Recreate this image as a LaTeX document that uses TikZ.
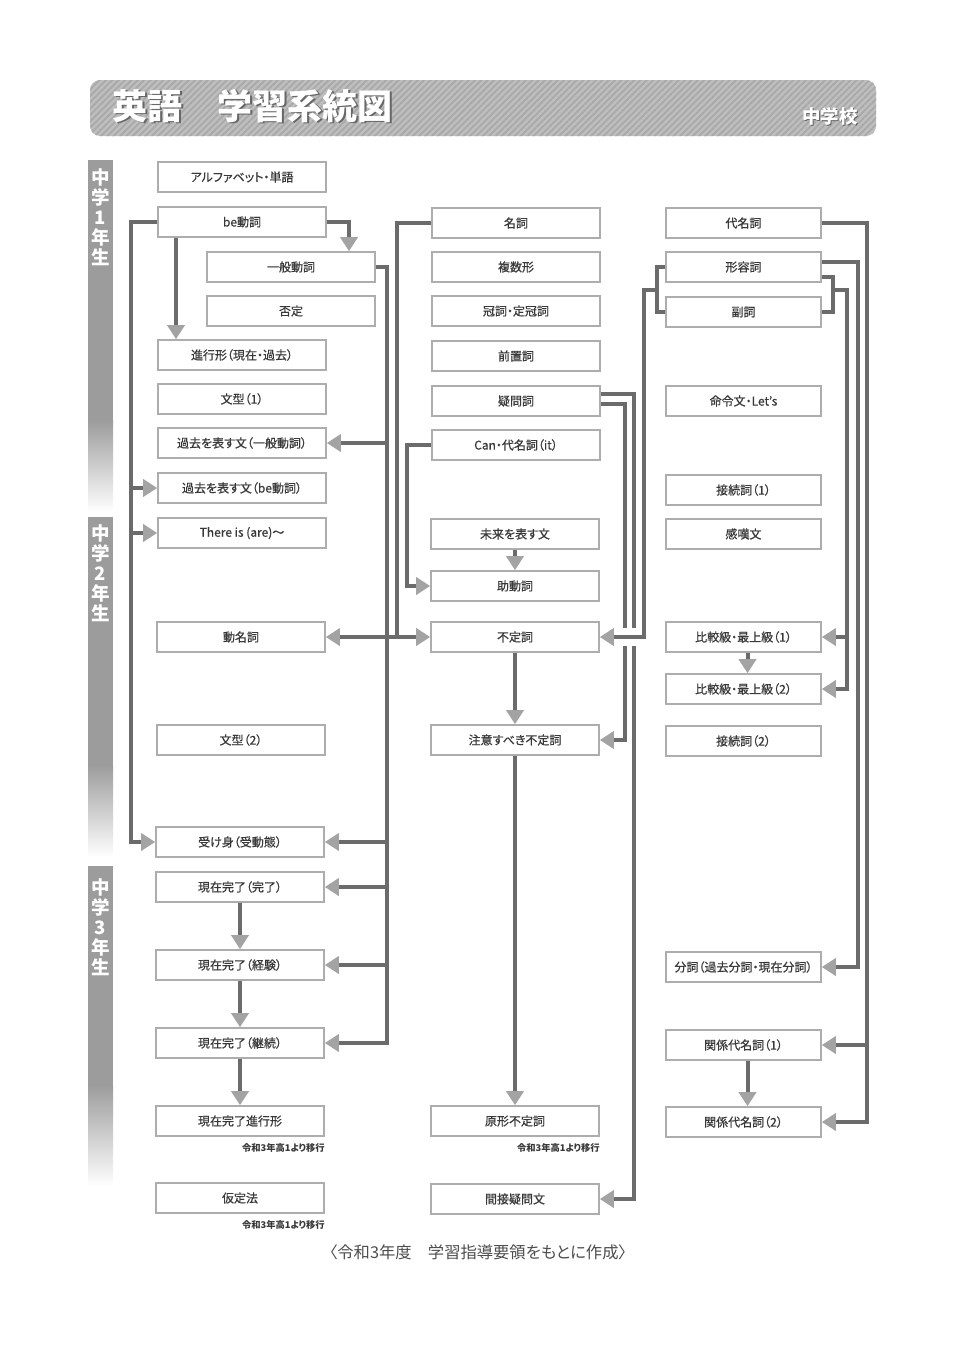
\documentclass[tikz,border=0pt]{standalone}
\usepackage{fontspec}
\setmainfont[RawFeature=+palt]{Noto Sans CJK JP}
\newfontfamily\boxfont[RawFeature=+palt, FakeBold=0.7]{Noto Sans CJK JP}
\usetikzlibrary{arrows.meta, calc, patterns.meta}
\definecolor{linegray}{HTML}{6B6B6B}
\definecolor{arrgray}{HTML}{A3A3A3}
\definecolor{boxgray}{HTML}{ADADAD}
\definecolor{txtgray}{HTML}{383838}
\definecolor{bargray}{HTML}{9C9C9C}
\definecolor{bannergray}{HTML}{BEBEBE}
\definecolor{stripegray}{HTML}{A9A9A9}

\begin{document}
\begin{tikzpicture}[x=1pt, y=-1pt,
        box/.style={draw=boxgray, line width=1.6pt, minimum width=168pt, minimum height=30pt, inner sep=0pt, text=txtgray, font=\boxfont\fontsize{12}{13}\selectfont},
        rbox/.style={box, minimum width=155pt},
        note/.style={anchor=north east, inner sep=0pt, text=txtgray, font=\bfseries\fontsize{9.3}{10}\selectfont},
        conn/.style={draw=linegray, line width=4pt},
        arr/.style={-{Triangle[width=17pt, length=14pt, color=arrgray]}},
        grade/.style={anchor=north, inner sep=0pt, align=center, text=white, font=\bfseries\fontsize{18.5}{20}\selectfont},
        headline/.style={inner sep=0pt, font=\bfseries\fontsize{35}{40}\selectfont}]
        \useasboundingbox (0,0) rectangle (960,1357);

        \fill[bannergray, rounded corners=10pt] (90,80) rectangle (876,136);
        \fill[pattern={Lines[angle=45, distance=4.5pt, line width=1.8pt]}, pattern color=stripegray, rounded corners=10pt] (90,80) rectangle (876,136);
        \node[headline, anchor=west, text=black!60] at (114,107.5) {英語　学習系統図};
        \node[headline, anchor=west, text=white] (title) at (112.5,106) {英語　学習系統図};
        \node[anchor=east, inner sep=0pt, text=black!60, font=\bfseries\fontsize{18.5}{20}\selectfont] at (859,117) {中学校};
        \node[anchor=east, inner sep=0pt, text=white, font=\bfseries\fontsize{18.5}{20}\selectfont] (school) at (858,116) {中学校};

        \fill[bargray] (88,160) rectangle (113,420);
        \shade[top color=bargray, bottom color=white] (88,420) rectangle (113,512);
        \fill[bargray] (88,517) rectangle (113,765);
        \shade[top color=bargray, bottom color=white] (88,765) rectangle (113,857);
        \fill[bargray] (88,866) rectangle (113,1085);
        \shade[top color=bargray, bottom color=white] (88,1085) rectangle (113,1186);
        \node[grade] (g1) at (100.5,168) {中\\学\\1\\年\\生};
        \node[grade] (g2) at (100.5,524) {中\\学\\2\\年\\生};
        \node[grade] (g3) at (100.5,878) {中\\学\\3\\年\\生};

        \node[box] (alph) at (242,177) {アルファベット・単語};
        \node[box] (be) at (242,222) {be動詞};
        \node[box] (ippan) at (291,267) {一般動詞};
        \node[box] (hitei) at (291,311) {否定};
        \node[box] (shinko) at (242,355) {進行形（現在・過去）};
        \node[box] (bunkei1) at (242,399) {文型（1）};
        \node[box] (kakoI) at (242,443) {過去を表す文（一般動詞）};
        \node[box] (kakoB) at (242,488) {過去を表す文（be動詞）};
        \node[box] (there) at (242,533) {There is (are)～};
        \node[box] (domei) at (241,637) {動名詞};
        \node[box] (bunkei2) at (241,740) {文型（2）};
        \node[box] (ukemi) at (240,842) {受け身（受動態）};
        \node[box] (kanryo) at (240,887) {現在完了（完了）};
        \node[box] (keiken) at (240,965) {現在完了（経験）};
        \node[box] (keizoku) at (240,1043) {現在完了（継続）};
        \node[box] (shinkokei) at (240,1121) {現在完了進行形};
        \node[box] (katei) at (240,1198) {仮定法};
        \node[note] (note1) at ([yshift=-6pt]shinkokei.south east) {令和3年高1より移行};
        \node[note] (note2) at ([yshift=-6pt]katei.south east) {令和3年高1より移行};

        \node[box] (meishi) at (516,223) {名詞};
        \node[box] (fukusu) at (516,267) {複数形};
        \node[box] (kanshi) at (516,311) {冠詞・定冠詞};
        \node[box] (zenchi) at (516,356) {前置詞};
        \node[box] (gimon) at (516,401) {疑問詞};
        \node[box] (can) at (516,445) {Can・代名詞（it）};
        \node[box] (mirai) at (515,534) {未来を表す文};
        \node[box] (jodo) at (515,586) {助動詞};
        \node[box] (futei) at (515,637) {不定詞};
        \node[box] (chui) at (515,740) {注意すべき不定詞};
        \node[box] (genkei) at (515,1121) {原形不定詞};
        \node[box] (kansetsu) at (515,1199) {間接疑問文};
        \node[note] (note3) at ([yshift=-6pt]genkei.south east) {令和3年高1より移行};

        \node[rbox] (daimei) at (743.5,223) {代名詞};
        \node[rbox] (keiyo) at (743.5,267) {形容詞};
        \node[rbox] (fuku) at (743.5,312) {副詞};
        \node[rbox] (meirei) at (743.5,401) {命令文・Let’s};
        \node[rbox] (setsu1) at (743.5,490) {接続詞（1）};
        \node[rbox] (kantan) at (743.5,534) {感嘆文};
        \node[rbox] (hikaku1) at (743.5,637) {比較級・最上級（1）};
        \node[rbox] (hikaku2) at (743.5,689) {比較級・最上級（2）};
        \node[rbox] (setsu2) at (743.5,741) {接続詞（2）};
        \node[rbox] (bunshi) at (743.5,967) {分詞（過去分詞・現在分詞）};
        \node[rbox] (kankei1) at (743.5,1045) {関係代名詞（1）};
        \node[rbox] (kankei2) at (743.5,1122) {関係代名詞（2）};

        \node[text=black!70, font=\fontsize{16.3}{17}\selectfont] (source) at (478,1252) {〈令和3年度　学習指導要領をもとに作成〉};

        \coordinate (xA) at (131,0);
        \coordinate (xB) at (349,0);
        \coordinate (xC) at (176,0);
        \coordinate (xD) at (387,0);
        \coordinate (xE) at (397,0);
        \coordinate (xF) at (407,0);
        \coordinate (xG) at (625,0);
        \coordinate (xH) at (634,0);
        \coordinate (xI) at (644,0);
        \coordinate (xJ) at (657,0);
        \coordinate (xK) at (833,0);
        \coordinate (xL) at (847,0);
        \coordinate (xM) at (858,0);
        \coordinate (xN) at (867,0);
        \coordinate (gapT) at (0,628);
        \coordinate (gapB) at (0,646);
        \coordinate (midKF) at ($(keiyo.south)!0.5!(fuku.north)$);

        \draw[conn, arr] (be.west) -| (xA |- ukemi.west) -- (ukemi.west);
        \foreach \n in {kakoB, there}
            \draw[conn, arr] (xA |- \n.west) -- (\n.west);
        \draw[conn, arr] (be.east) -| (xB |- ippan.north);
        \draw[conn, arr] (xC |- be.south) -- (xC |- shinko.north);
        \draw[conn, arr] (ippan.east) -| (xD |- keizoku.east) -- (keizoku.east);
        \foreach \n in {kakoI, ukemi, kanryo, keiken}
            \draw[conn, arr] (xD |- \n.east) -- (\n.east);
        \foreach \a/\b in {kanryo/keiken, keiken/keizoku, keizoku/shinkokei}
            \draw[conn, arr] (\a.south) -- (\b.north);

        \draw[conn, arr] (meishi.west) -| (xE |- futei.west) -- (futei.west);
        \draw[conn, arr] (xE |- domei.east) -- (domei.east);
        \draw[conn, arr] (can.west) -| (xF |- jodo.west) -- (jodo.west);
        \draw[conn, arr] (mirai.south) -- (jodo.north);
        \draw[conn, arr] (futei.south) -- (chui.north);
        \draw[conn, arr] (chui.south) -- (genkei.north);

        \draw[conn] ([yshift=7pt]gimon.east) -| (xH |- gapT);
        \draw[conn, arr] (xH |- gapB) |- (kansetsu.east);
        \draw[conn] ([yshift=-3pt]gimon.east) -| (xG |- gapT);
        \draw[conn, arr] (xG |- gapB) |- (chui.east);
        \draw[conn] (keiyo.west) -- (xJ |- keiyo.west) -- (xJ |- fuku.west) -- (fuku.west);
        \draw[conn, arr] (xJ |- midKF) -| (xI |- futei.east) -- (futei.east);

        \draw[conn] ([yshift=-10pt]keiyo.east) -| (xK |- fuku.east) -- (fuku.east);
        \draw[conn, arr] (xK |- midKF) -| (xL |- hikaku2.east) -- (hikaku2.east);
        \draw[conn, arr] (xL |- hikaku1.east) -- (hikaku1.east);
        \draw[conn, arr] ([yshift=5pt]keiyo.east) -| (xM |- bunshi.east) -- (bunshi.east);
        \draw[conn, arr] (daimei.east) -| (xN |- kankei2.east) -- (kankei2.east);
        \draw[conn, arr] (xN |- kankei1.east) -- (kankei1.east);
        \draw[conn, arr] ([xshift=4pt]hikaku1.south) -- ([xshift=4pt]hikaku2.north);
        \draw[conn, arr] ([xshift=4pt]kankei1.south) -- ([xshift=4pt]kankei2.north);
    \end{tikzpicture}
\end{document}
